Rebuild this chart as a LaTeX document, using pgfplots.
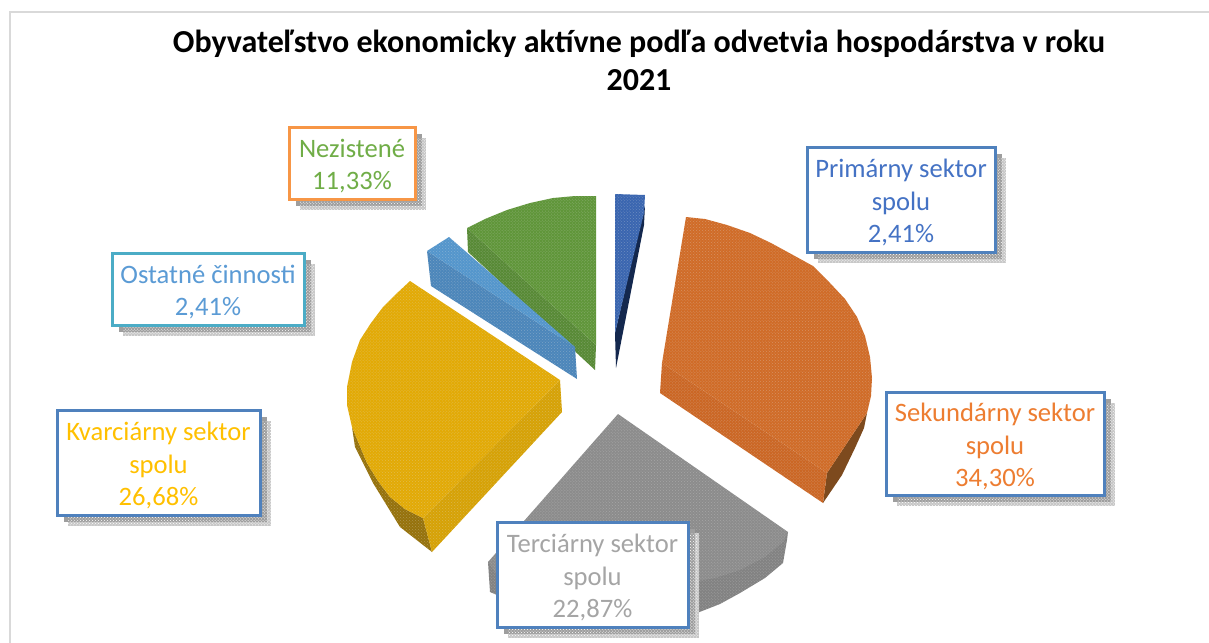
\documentclass[border=0pt]{standalone}
\usepackage{pgfplots}
\pgfplotsset{compat=1.18}
\usepackage{fontspec}
\setmainfont{Carlito}
\usetikzlibrary{patterns}
\definecolor{cOr}{RGB}{208,108,40}
\definecolor{cOrS}{RGB}{203,103,37}
\definecolor{cOrD}{RGB}{125,74,30}
\definecolor{cBl}{RGB}{58,102,176}
\definecolor{cBlD}{RGB}{20,40,78}
\definecolor{cGr}{RGB}{96,150,58}
\definecolor{cGrS}{RGB}{88,138,54}
\definecolor{cLb}{RGB}{84,150,204}
\definecolor{cLbS}{RGB}{76,134,186}
\definecolor{cYe}{RGB}{226,170,6}
\definecolor{cYeS}{RGB}{214,162,6}
\definecolor{cYeD}{RGB}{150,114,12}
\definecolor{cGy}{RGB}{140,140,140}
\definecolor{cGyS}{RGB}{130,130,130}
\definecolor{bB}{HTML}{4F81BD}
\definecolor{bO}{HTML}{F79646}
\definecolor{bT}{HTML}{4BACC6}
\definecolor{tB}{HTML}{4472C4}
\definecolor{tO}{HTML}{ED7D31}
\definecolor{tG}{HTML}{A5A5A5}
\definecolor{tY}{HTML}{FFC000}
\definecolor{tL}{HTML}{5B9BD5}
\definecolor{tN}{HTML}{70AD47}
\tikzset{dots/.style={postaction={pattern=crosshatch dots,pattern color=white!90!black,opacity=.30}}}
\newcommand{\lab}[8]{%
 \fill[black!22] ([shift={(11bp,-11bp)}]axis cs:#1,#2) rectangle ([shift={(11bp,-11bp)}]axis cs:#3,#4);
 \fill[black!38] ([shift={(7bp,-7bp)}]axis cs:#1,#2) rectangle ([shift={(7bp,-7bp)}]axis cs:#3,#4);
 \fill[pattern=crosshatch dots,pattern color=white] ([shift={(11bp,-11bp)}]axis cs:#1,#2) rectangle ([shift={(11bp,-11bp)}]axis cs:#3,#4);
 \draw[line width=3bp,draw=#5,fill=white] (axis cs:#1,#2) rectangle (axis cs:#3,#4);
 \node[text=#6,align=center,font=\fontsize{#8}{32.5bp}\selectfont,inner sep=0pt,yshift=-3bp] at (axis cs:{(#1+#3)/2},{(#2+#4)/2}) {#7};
}
\begin{document}
\begin{tikzpicture}
\begin{axis}[
  scale only axis,width=1209bp,height=643bp,
  xmin=0,xmax=1209,ymin=0,ymax=643,y dir=reverse,
  hide axis,clip=true,no markers,
  every axis plot/.append style={draw=none},
]
% frame
\addplot[draw=black!15,line width=2bp] coordinates {(10,643) (10,12) (1209,12)};
% Primary
\addplot[fill=cBlD] coordinates {(645,205) (644,225) (616,368) (615,333) (632,260)} -- cycle;
\addplot[fill=cBl,dots] coordinates {(615,194) (645,195) (644,213) (632,262) (615,333)} -- cycle;
% Secondary
\addplot[fill=cOrD] coordinates {(867,413) (864,428) (855,448) (842,475) (823,503) (827,473)} -- cycle;
\addplot[fill=cOrS,dots] coordinates {(662,363) (827,473) (823,503) (660,393)} -- cycle;
\addplot[fill=cOr,dots] coordinates {(686,217) (705,219) (727,225) (750,233) (771,243) (793,255) (813,266) (830,283) (845,299) (857,317) (865,336) (870,357) (872,378) (871,396) (867,413) (827,473) (662,363)} -- cycle;
% Tertiary
\addplot[fill=cGyS,dots] coordinates {(488,562) (490,592) (497,595) (697,613) (720,604) (740,593) (765,578) (783,563) (787,540) (788,532)} -- cycle;
\addplot[fill=cGy,dots] coordinates {(618,414) (788,532) (783,542) (765,557) (740,570) (715,578) (687,583) (600,590) (497,575) (488,562)} -- cycle;
% Quaternary
\addplot[fill=cYeD,dots] coordinates {(352,427) (355,447) (373,483) (400,527) (432,552) (423,518) (405,509) (390,497) (378,481) (367,463)} -- cycle;
\addplot[fill=cYeS,dots] coordinates {(560,380) (562,412) (432,552) (423,518)} -- cycle;
\addplot[fill=cYe,dots] coordinates {(410,281) (395,295) (383,307) (371,323) (360,340) (352,362) (347,387) (347,405) (352,427) (367,463) (378,481) (390,497) (405,509) (423,518) (560,380)} -- cycle;
% Nezistene
\addplot[fill=cGrS,dots] coordinates {(467,228) (468,252) (595,370) (596,345)} -- cycle;
\addplot[fill=cGr,dots] coordinates {(467,228) (485,219) (507,210) (530,203) (553,198) (575,196) (596,196) (596,345)} -- cycle;
% Other
\addplot[fill=cLbS,dots] coordinates {(427,251) (575,347) (577,379) (431,286)} -- cycle;
\addplot[fill=cLb,dots] coordinates {(427,251) (449,237) (575,347)} -- cycle;
% labels
\lab{289}{127}{415}{199}{bO}{tN}{Nezistené\\11,33\%}{26.6bp}
\lab{807}{147}{995}{252}{bB}{tB}{Primárny sektor\\spolu\\2,41\%}{26.6bp}
\lab{112}{253}{304}{325}{bT}{tL}{Ostatné činnosti\\2,41\%}{26.6bp}
\lab{886}{392}{1104}{495}{bB}{tO}{Sekundárny sektor\\spolu\\34,30\%}{26.6bp}
\lab{57}{410}{260}{515}{bB}{tY}{Kvarciárny sektor\\spolu\\26,68\%}{26.6bp}
\lab{497}{522}{688}{627}{bB}{tG}{Terciárny sektor\\spolu\\22,87\%}{26.6bp}
\node[align=center,font=\fontsize{32bp}{38bp}\selectfont\bfseries,inner sep=0pt] at (axis cs:639,60) {Obyvateľstvo ekonomicky aktívne podľa odvetvia hospodárstva v roku\\2021};
\path[draw=none] (axis cs:0,0) coordinate (bbA) (axis cs:1209,643) coordinate (bbB);
\end{axis}
\pgfresetboundingbox
\path[use as bounding box] (bbA) rectangle (bbB);
\end{tikzpicture}
\end{document}
